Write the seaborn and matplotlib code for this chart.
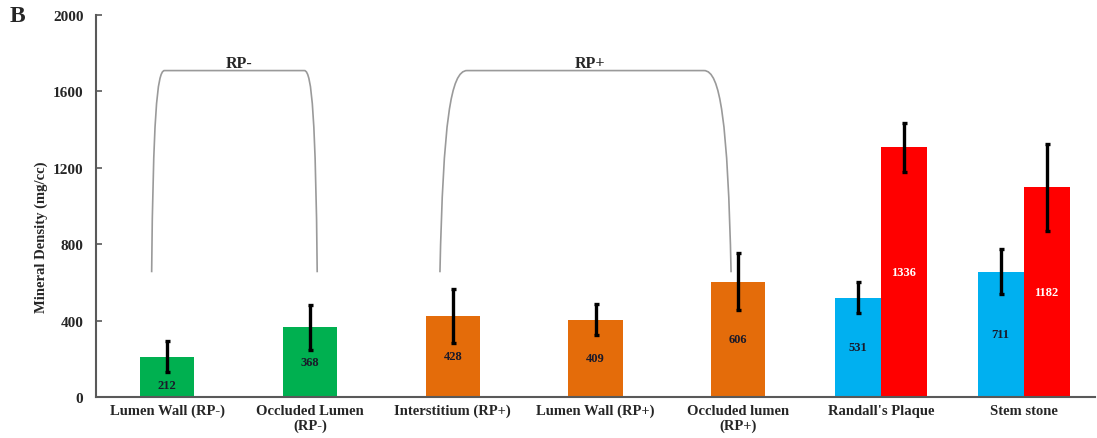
import matplotlib
matplotlib.use('Agg')
import matplotlib.pyplot as plt
from matplotlib.path import Path
from matplotlib.patches import PathPatch
import pandas as pd
import seaborn as sns

categories = ['Lumen Wall (RP-)', 'Occluded Lumen\n(RP-)', 'Interstitium (RP+)',
              'Lumen Wall (RP+)', 'Occluded lumen\n(RP+)', "Randall's Plaque", 'Stem stone']

# single bars (first five categories)
single_height = [211, 364, 425, 405, 603]
single_err = [81, 120, 140, 80, 150]
single_label = [212, 368, 428, 409, 606]

# paired bars (Randall's Plaque, Stem stone)
blue_height = [519, 657]
blue_err = [81, 120]
blue_label = [531, 711]
red_height = [1307, 1097]
red_err = [128, 227]
red_label = [1336, 1182]

single_colors = ['#00B050', '#00B050', '#E46C0A', '#E46C0A', '#E46C0A']
pair_colors = ['#00B0F0', '#FF0000']

sns.set_style('white')
plt.rcParams['font.family'] = ['Liberation Serif', 'DejaVu Serif']
plt.rcParams['font.weight'] = 'bold'

fig = plt.figure(figsize=(10.97, 4.39), dpi=100)
ax = fig.add_axes([96 / 1097, 41 / 439, 999 / 1097, 382 / 439])

df1 = pd.DataFrame({'cat': categories[:5], 'h': single_height})
sns.barplot(data=df1, x='cat', y='h', hue='cat', order=categories,
            hue_order=categories[:5], palette=single_colors, width=0.38,
            saturation=1, linewidth=0, legend=False, ax=ax)

df2 = pd.DataFrame({'cat': categories[5:] * 2,
                    'series': ['a', 'a', 'b', 'b'],
                    'h': blue_height + red_height})
pair_w = 0.645
sns.barplot(data=df2, x='cat', y='h', hue='series', order=categories,
            palette=pair_colors, width=pair_w, dodge=True,
            saturation=1, linewidth=0, legend=False, ax=ax)

# error bars + value labels
xs, hs, es, labs, cols = [], [], [], [], []
for i in range(5):
    xs.append(i); hs.append(single_height[i]); es.append(single_err[i])
    labs.append(single_label[i]); cols.append('#1a1a2a')
for j in range(2):
    xs.append(5 + j - pair_w / 4); hs.append(blue_height[j]); es.append(blue_err[j])
    labs.append(blue_label[j]); cols.append('#1a1a2a')
    xs.append(5 + j + pair_w / 4); hs.append(red_height[j]); es.append(red_err[j])
    labs.append(red_label[j]); cols.append('white')

ax.errorbar(xs, hs, yerr=es, fmt='none', ecolor='black', elinewidth=2.4,
            capsize=1.8, capthick=2.4, zorder=3)

for x, h, e, lab, c in zip(xs, hs, es, labs, cols):
    y = h / 2
    if h - e < h / 2 + 30:
        y = (h - e) / 2
    ax.text(x, y, str(lab), ha='center', va='center', fontsize=9,
            fontweight='bold', color=c, zorder=4)


def bracket(ax, x0, x1, dx, yb, yt, label):
    span = yt - yb
    verts = [(x0, yb), (x0 + 0.12 * dx, yt - 0.25 * span), (x0 + 0.4 * dx, yt),
             (x0 + dx, yt), (x1 - dx, yt), (x1 - 0.4 * dx, yt),
             (x1 - 0.12 * dx, yt - 0.25 * span), (x1, yb)]
    codes = [Path.MOVETO, Path.CURVE4, Path.CURVE4, Path.CURVE4,
             Path.LINETO, Path.CURVE4, Path.CURVE4, Path.CURVE4]
    ax.add_patch(PathPatch(Path(verts, codes), fill=False, edgecolor='#9a9a9a',
                           linewidth=1.2))
    ax.text((x0 + x1) / 2 + 0.03, yt + 42, label, ha='center', va='center',
            fontsize=11.5, fontweight='bold')


bracket(ax, -0.11, 1.05, 0.09, 653, 1709, 'RP-')
bracket(ax, 1.91, 3.95, 0.19, 653, 1709, 'RP+')

ax.set_ylim(0, 2000)
ax.set_xlim(-0.5, 6.5)
ax.set_yticks(range(0, 2001, 400))
ax.set_xlabel('')
ax.set_ylabel('Mineral Density (mg/cc)', fontsize=10.5, fontweight='bold')
ax.yaxis.set_label_coords(-0.048, 0.42)
ax.tick_params(axis='y', direction='in', length=4, width=1.2, pad=9,
               labelsize=11, color='#595959', left=True)
ax.tick_params(axis='x', length=0, pad=5, labelsize=10.5)
for lbl in ax.get_xticklabels() + ax.get_yticklabels():
    lbl.set_fontweight('bold')

for s in ['top', 'right']:
    ax.spines[s].set_visible(False)
for s in ['left', 'bottom']:
    ax.spines[s].set_color('#595959')
    ax.spines[s].set_linewidth(1.5)

fig.text(10 / 1097, 1 - 17 / 439, 'B', fontsize=17, fontweight='bold',
         ha='left', va='center')

fig.savefig('out.png', dpi=100)
